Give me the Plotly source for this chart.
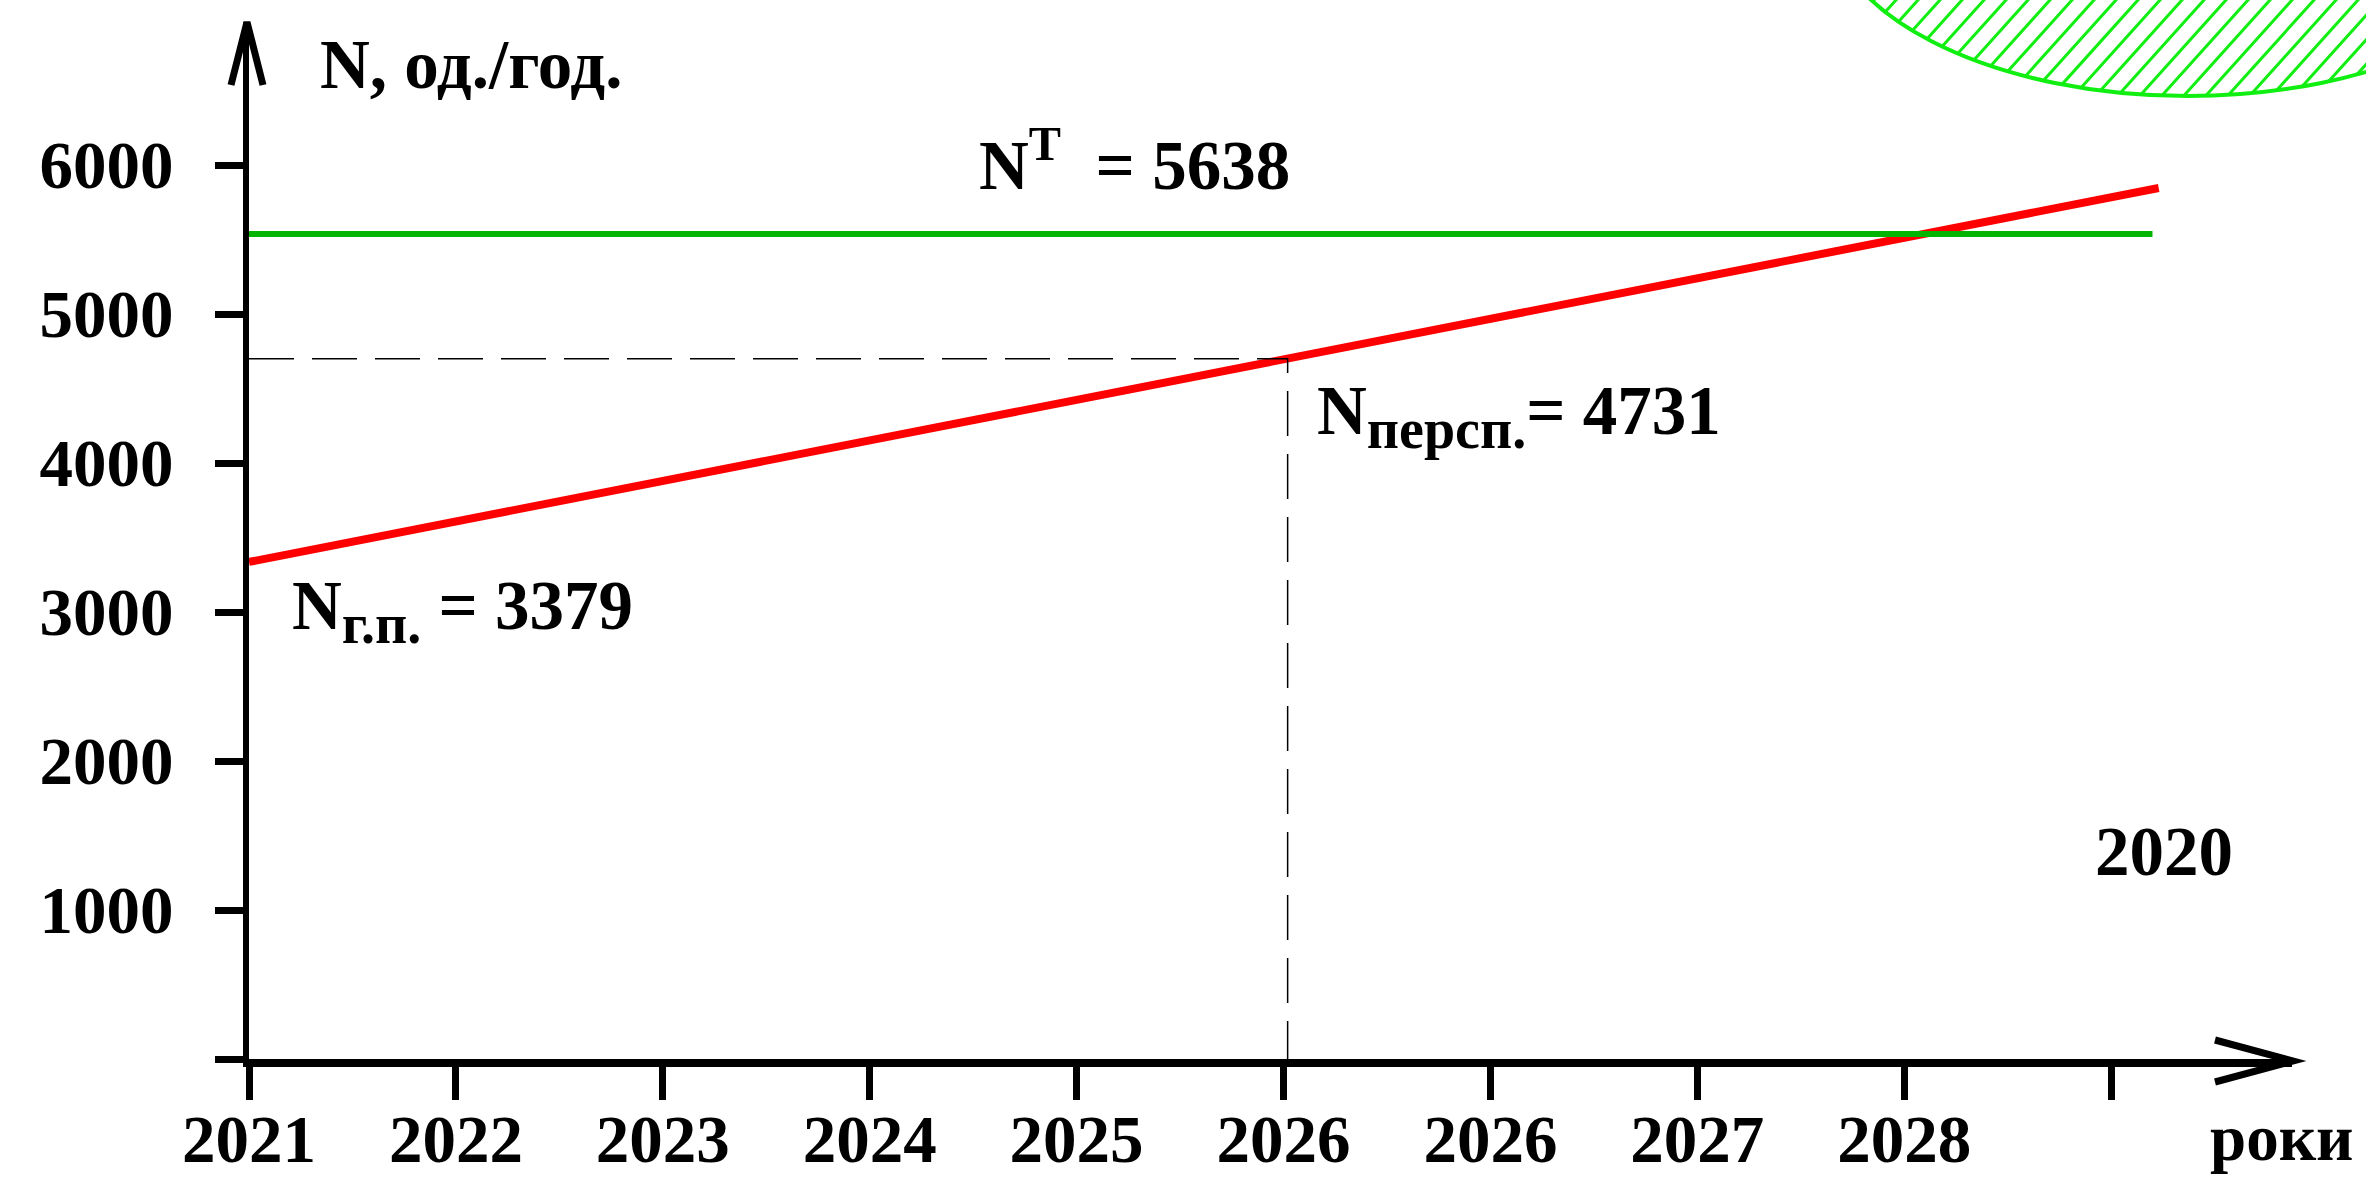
import numpy as np
import plotly.graph_objects as go

# ---------------- data ----------------
x_positions = [0, 1, 2, 3, 4, 5, 6, 7, 8, 9]
x_tick_labels = ["2021", "2022", "2023", "2024", "2025", "2026", "2026", "2027", "2028", ""]
y_tick_values = [0, 1000, 2000, 3000, 4000, 5000, 6000]
y_tick_labels = ["", "1000", "2000", "3000", "4000", "5000", "6000"]

trend_x = [0, 9.23]          # red line
trend_y = [3336, 5846]
target_x = [0, 9.20]         # green line
target_y = [5537, 5537]
guide_x = [0, 5.02, 5.02]    # dashed projection lines
guide_y = [4700, 4700, 0]

n_target = 5638
n_persp = 4731
n_gp = 3379
year_mark = "2020"
y_title = "N, од./год."
x_title = "роки"

# ---------------- layout geometry (pixels) ----------------
W, H = 2366, 1180
PL, PR, PT, PB = 249, 2292, 22, 1059
X_RANGE = [0, (PR - PL) / 206.9]
Y_RANGE = [0, (PB - PT) / 0.149]

FONT = "Liberation Serif, Times New Roman, serif"


def fx(px):
    return (px - PL) / (PR - PL)


def fy(py):
    return (PB - py) / (PB - PT)


fig = go.Figure()

fig.add_trace(go.Scatter(x=trend_x, y=trend_y, mode="lines",
                         line=dict(color="#ff0000", width=8), hoverinfo="skip"))
fig.add_trace(go.Scatter(x=target_x, y=target_y, mode="lines",
                         line=dict(color="#00b400", width=6), hoverinfo="skip"))
fig.add_trace(go.Scatter(x=guide_x, y=guide_y, mode="lines",
                         line=dict(color="black", width=1.5, dash="45px,18px"),
                         hoverinfo="skip"))

shapes = []
# axis arrows (open chevrons)
shapes.append(dict(type="path", xref="paper", yref="paper",
                   path=f"M {fx(231)} {fy(85)} L {fx(247)} {fy(22)} L {fx(263)} {fy(85)}",
                   line=dict(color="black", width=7)))
shapes.append(dict(type="path", xref="paper", yref="paper",
                   path=f"M {fx(2215)} {fy(1040)} L {fx(2293)} {fy(1061)} L {fx(2215)} {fy(1082)}",
                   line=dict(color="black", width=7)))

# hatched ellipse at top-right (decoration)
cx, cy, ea, eb = 2188.0, -90.0, 362.0, 186.0
lime = "#11ee11"
shapes.append(dict(type="circle", xref="paper", yref="paper",
                   x0=fx(cx - ea), x1=fx(cx + ea), y0=fy(cy - eb), y1=fy(cy + eb),
                   line=dict(color=lime, width=4)))
theta = np.deg2rad(48)
dx, dy = np.cos(theta), -np.sin(theta)
segs = []
for c in np.arange(1500, 3000, 22.0):
    A = dx ** 2 / ea ** 2 + dy ** 2 / eb ** 2
    B = 2 * dx * (c - cx) / ea ** 2 - 2 * dy * cy / eb ** 2
    C = (c - cx) ** 2 / ea ** 2 + cy ** 2 / eb ** 2 - 1
    disc = B * B - 4 * A * C
    if disc <= 0:
        continue
    t1 = (-B - np.sqrt(disc)) / (2 * A)
    t2 = (-B + np.sqrt(disc)) / (2 * A)
    x1, y1 = c + t1 * dx, t1 * dy
    x2, y2 = c + t2 * dx, t2 * dy
    segs.append(f"M {fx(x1):.5f} {fy(y1):.5f} L {fx(x2):.5f} {fy(y2):.5f}")
shapes.append(dict(type="path", xref="paper", yref="paper", path=" ".join(segs),
                   line=dict(color=lime, width=3)))

nb = "\u00a0"
sub_style = '<span style="font-size:56px">'
annos = [
    (y_title, 318, 65, 69),
    (f"N<sup>T</sup>{nb}{nb}= {n_target}", 977, 160, 69),
    (f"N<sub>{sub_style}персп.</span></sub>= {n_persp}", 1315, 416, 69),
    (f"N<sub>{sub_style}г.п.</span></sub> = {n_gp}", 290, 611, 69),
    (year_mark, 2093, 852, 69),
    (x_title, 2208, 1138, 65),
]
annotations = []
for text, px, py, fs in annos:
    annotations.append(dict(text=text, xref="paper", yref="paper", x=fx(px), y=fy(py),
                            xanchor="left", yanchor="middle", showarrow=False,
                            font=dict(family=FONT, size=fs, color="black", weight="bold")))

fig.update_layout(
    width=W, height=H,
    margin=dict(l=PL, r=W - PR, t=PT, b=H - PB, pad=0, autoexpand=False),
    paper_bgcolor="white", plot_bgcolor="white",
    showlegend=False,
    shapes=shapes,
    annotations=annotations,
    xaxis=dict(range=X_RANGE, showgrid=False, zeroline=False, automargin=False,
               showline=True, linecolor="black", linewidth=8,
               ticks="outside", ticklen=33, tickwidth=7, tickcolor="black",
               tickmode="array", tickvals=x_positions, ticktext=x_tick_labels,
               ticklabelstandoff=-18,
               tickfont=dict(family=FONT, size=67, color="black", weight="bold")),
    yaxis=dict(range=Y_RANGE, showgrid=False, zeroline=False, automargin=False,
               showline=True, linecolor="black", linewidth=6,
               ticks="outside", ticklen=28, tickwidth=7, tickcolor="black",
               tickmode="array", tickvals=y_tick_values, ticktext=y_tick_labels,
               ticklabelstandoff=28,
               tickfont=dict(family=FONT, size=67, color="black", weight="bold")),
)

fig.write_html("out.html",
               config={"displayModeBar": False},
               post_script="document.body.style.margin='0';"
                           "document.body.style.overflow='hidden';")
